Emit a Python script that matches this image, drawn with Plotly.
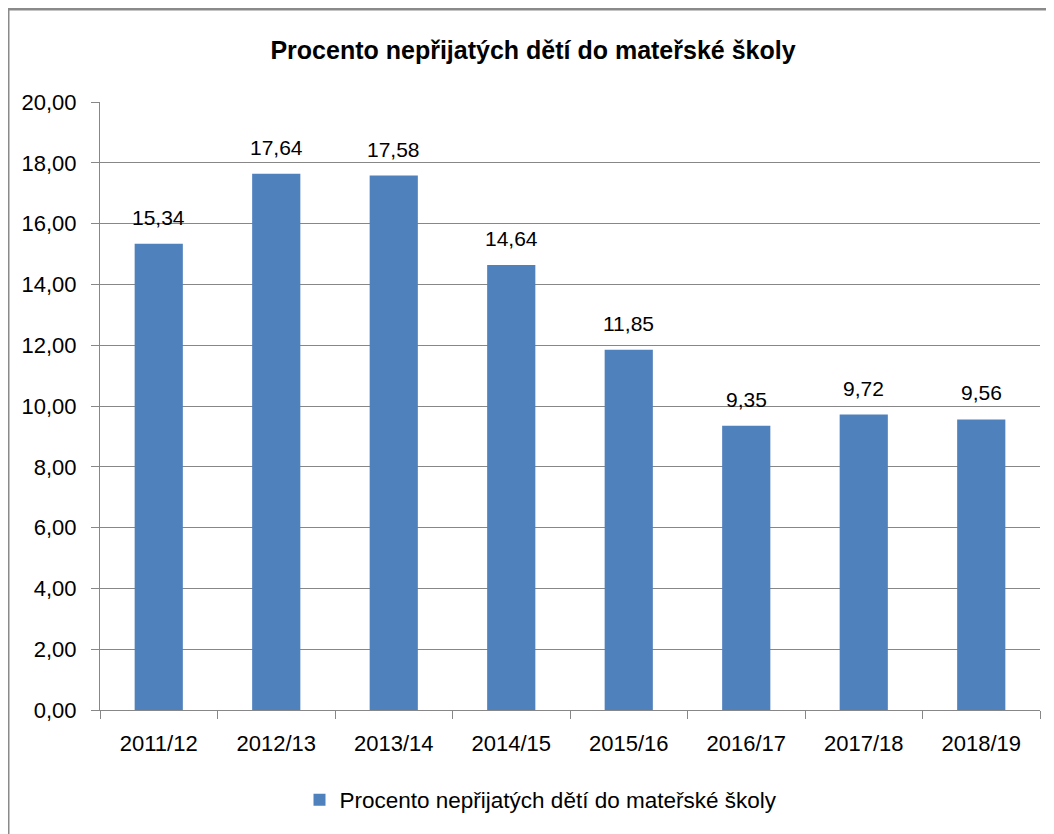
import plotly.graph_objects as go

categories = ["2011/12", "2012/13", "2013/14", "2014/15", "2015/16", "2016/17", "2017/18", "2018/19"]
values = [15.34, 17.64, 17.58, 14.64, 11.85, 9.35, 9.72, 9.56]
series_name = "Procento nepřijatých dětí do mateřské školy"
title_text = "Procento nepřijatých dětí do mateřské školy"

FONT = "Liberation Sans"
GRID = "#878787"
BAR = "#4F81BD"

fig = go.Figure()
fig.add_trace(go.Bar(
    x=categories,
    y=values,
    name=series_name,
    marker=dict(color=BAR, line=dict(width=0)),
    showlegend=True,
))

# data labels above bars
for c, v in zip(categories, values):
    fig.add_annotation(
        x=c, y=v, xref="x", yref="y",
        text=f"{v:.2f}".replace(".", ","),
        showarrow=False, yanchor="bottom", yshift=13,
        font=dict(family=FONT, size=21, color="#000000"),
    )

# page has an 8px body margin; layout coords = reference coords - 8
W, H = 1046, 826
L, R, T, B = 92, 14, 94, 124
pw, ph = W - L - R, H - T - B
bx = (0 - L) / pw
by_top = (ph + T - 1) / ph
by_bot = (ph + T - H - 5) / ph
bx_right = (W + 5 - L) / pw
fig.add_shape(type="line", xref="paper", yref="paper", x0=bx, x1=bx, y0=by_bot, y1=by_top,
              line=dict(color="#8a8a8a", width=3))
fig.add_shape(type="line", xref="paper", yref="paper", x0=bx, x1=bx_right, y0=by_top, y1=by_top,
              line=dict(color="#8a8a8a", width=3))

fig.update_layout(
    width=W, height=H,
    margin=dict(l=L, r=R, t=T, b=B),
    paper_bgcolor="white",
    plot_bgcolor="white",
    separators=",.",
    bargap=0.59,
    title=dict(text="<b>" + title_text + "</b>", x=525 / W, xanchor="center",
               y=1 - 42 / H, yanchor="middle",
               font=dict(family=FONT, size=25, color="#000000")),
    font=dict(family=FONT, size=22, color="#000000"),
    legend=dict(orientation="h", x=(533 - L) / pw, xanchor="center", y=(T + ph - 792) / ph, yanchor="middle",
                font=dict(family=FONT, size=22.5, color="#000000")),
    xaxis=dict(
        showline=True, linecolor=GRID, linewidth=1,
        ticks="outside", tickson="boundaries", ticklen=8, tickcolor=GRID,
        tickfont=dict(family=FONT, size=22),
        ticklabelstandoff=14,
        showgrid=False,
    ),
    yaxis=dict(
        range=[0, 20], dtick=2, tickformat=".2f",
        showline=True, linecolor=GRID, linewidth=1,
        ticks="outside", ticklen=8, tickcolor=GRID,
        showgrid=True, gridcolor=GRID, gridwidth=1,
        zeroline=False,
        tickfont=dict(family=FONT, size=22),
        ticklabelstandoff=10,
    ),
)

fig.write_html("out.html")
